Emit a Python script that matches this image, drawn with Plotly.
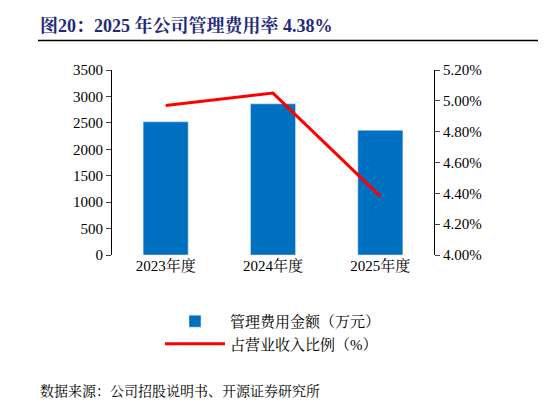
import plotly.graph_objects as go

categories = ["2023年度", "2024年度", "2025年度"]
expense = [2520, 2860, 2360]
ratio = [4.97, 5.05, 4.38]
left_ticks = [0, 500, 1000, 1500, 2000, 2500, 3000, 3500]
right_ticks = [4.0, 4.2, 4.4, 4.6, 4.8, 5.0, 5.2]

font = "Liberation Serif, Noto Serif CJK SC, Noto Sans CJK SC"
fig = go.Figure()
fig.add_bar(x=categories, y=expense, name="管理费用金额（万元）", marker_color="#0070C0", width=0.42)
fig.add_scatter(x=categories, y=ratio, name="占营业收入比例（%）", yaxis="y2", mode="lines",
                line=dict(color="#FF0000", width=3))
fig.update_layout(
    width=546, height=405, plot_bgcolor="white", paper_bgcolor="white",
    margin=dict(l=104, r=120, t=62, b=158, autoexpand=False),
    font=dict(family=font, size=15, color="black"),
    xaxis=dict(showline=False, ticks="", tickfont=dict(size=15), automargin=False),
    yaxis=dict(range=[0, 3500], tickvals=left_ticks, showline=True, linecolor="black",
               ticks="outside", ticklen=5, showgrid=False, zeroline=False, automargin=False),
    yaxis2=dict(range=[4.0, 5.2], tickvals=right_ticks, ticktext=[f"{v:.2f}%" for v in right_ticks],
                overlaying="y", side="right", showline=True, linecolor="black",
                ticks="outside", ticklen=5, showgrid=False, zeroline=False, automargin=False),
    legend=dict(x=0.5, xanchor="center", y=-0.27, yanchor="top", font=dict(size=15),
                tracegroupgap=16, itemwidth=60),
    showlegend=True,
)
fig.add_annotation(xref="paper", yref="paper", x=-0.23, y=1.24, xanchor="left", yanchor="middle",
                   text="<b>图20：2025 年公司管理费用率 4.38%</b>", showarrow=False,
                   font=dict(size=18, color="#1F2A7A"))
fig.add_shape(type="line", xref="paper", yref="paper", x0=-0.23, x1=1.38, y0=1.16, y1=1.16,
              line=dict(color="black", width=1.5))
fig.add_annotation(xref="paper", yref="paper", x=-0.23, y=-0.735, xanchor="left", yanchor="middle",
                   text="数据来源：公司招股说明书、开源证券研究所", showarrow=False, font=dict(size=14))
fig.write_html("out.html")
